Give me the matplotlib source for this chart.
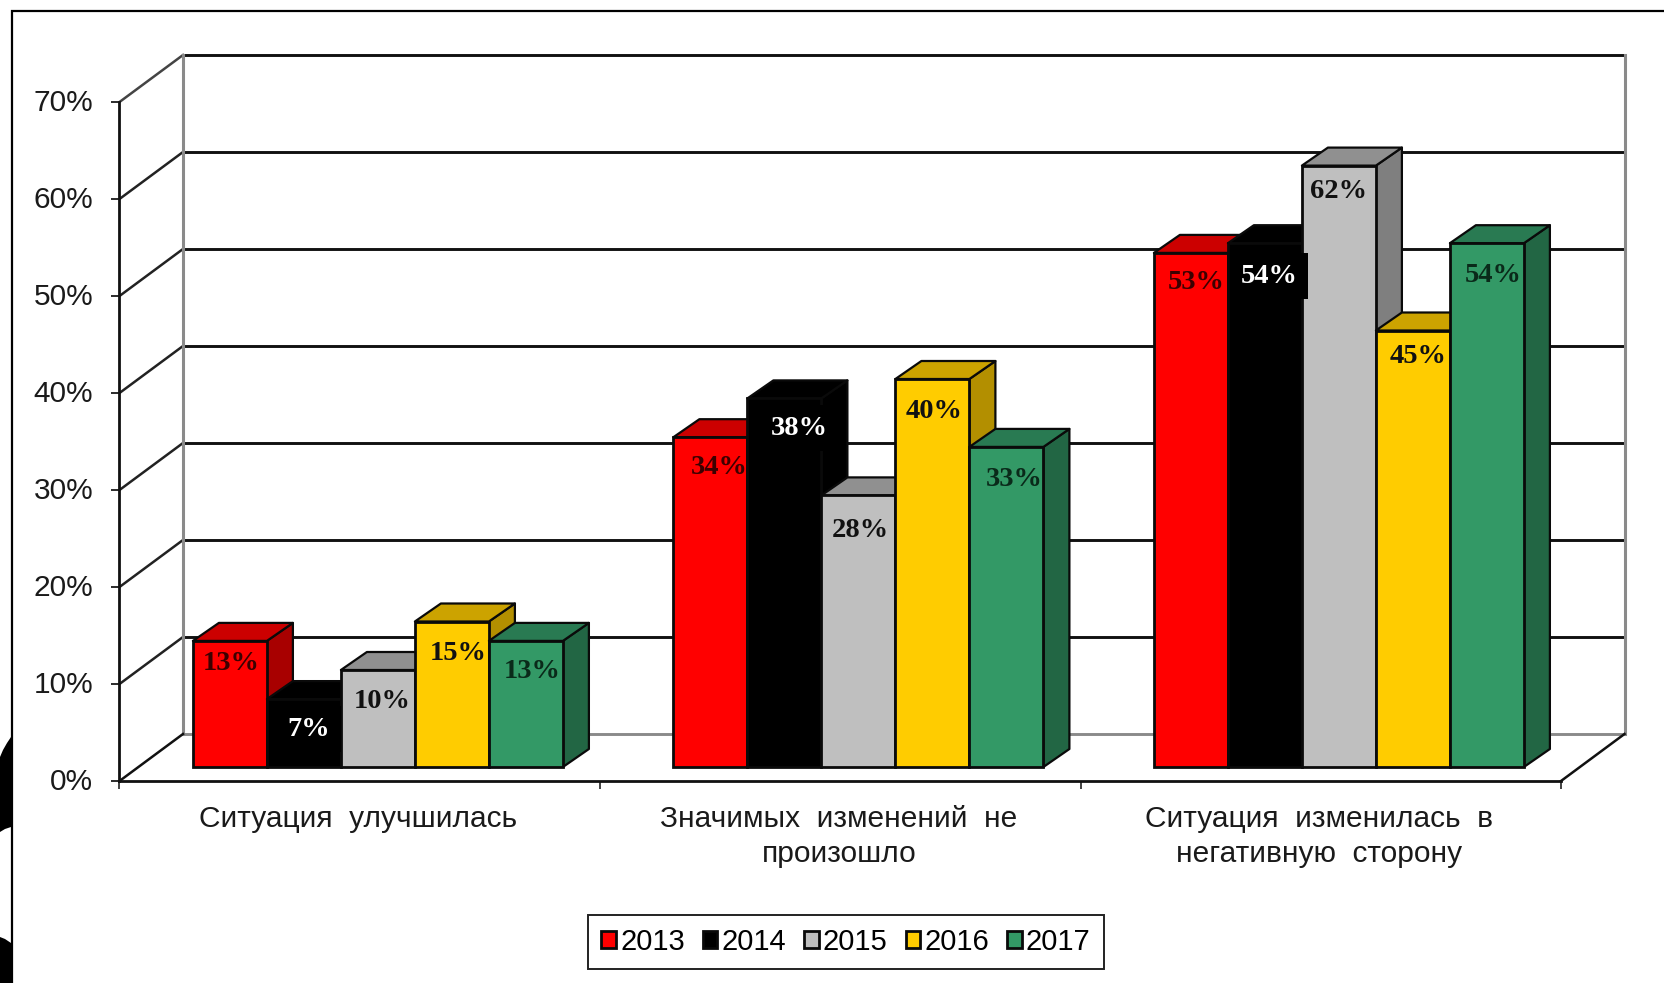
import matplotlib
matplotlib.use("Agg")
import matplotlib.pyplot as plt
from matplotlib.patches import Polygon, Patch
from matplotlib.transforms import ScaledTranslation

categories = ["Ситуация  улучшилась",
              "Значимых  изменений  не\nпроизошло",
              "Ситуация  изменилась  в\nнегативную  сторону"]
years = ["2013", "2014", "2015", "2016", "2017"]
v2013 = [13, 34, 53]
v2014 = [7, 38, 54]
v2015 = [10, 28, 62]
v2016 = [15, 40, 45]
v2017 = [13, 33, 54]
series = [v2013, v2014, v2015, v2016, v2017]
yticks = [0, 10, 20, 30, 40, 50, 60, 70]

front = ["#ff0000", "#000000", "#bfbfbf", "#ffcc00", "#339966"]
top_c = ["#cc0000", "#000000", "#909090", "#cca300", "#297a52"]
side_c = ["#a80000", "#000000", "#7f7f7f", "#b38f00", "#226644"]
label_c = ["#3c0000", "#ffffff", "#111111", "#111111", "#0a2a1a"]

# per-label pixel nudges relative to bar centre / bar top
nudges = [
    [(1, -23), (5, -30), (4, -31), (6, -32), (6, -31)],
    [(9, -30), (15, -30), (2, -35), (2, -32), (8, -33)],
    [(5, -30), (4, -33), (0, -26), (5, -26), (6, -32)],
]

W, H = 1664, 983
fig = plt.figure(figsize=(W / 100, H / 100), dpi=100, facecolor="white")
plt.rcParams["font.family"] = ["Liberation Sans", "DejaVu Sans"]

# slide decoration in pixel space
deco = fig.add_axes([0, 0, 1, 1])
deco.set_xlim(0, W)
deco.set_ylim(H, 0)
deco.axis("off")
deco.plot([W, 11.7, 11.7], [10.7, 10.7, H], color="black", lw=1.6, solid_joinstyle="miter")
deco.add_patch(Polygon([(0, 757), (3, 750), (7, 743), (11, 737), (11, 827), (5, 829), (0, 832)], fc="black", ec="none"))
deco.add_patch(Polygon([(0, 937), (5, 939), (11, 943), (11, H), (0, H)], fc="black", ec="none"))

X0, X1, Y0, Y1 = 119.5, 1561.0, 781.0, 102.0
ax = fig.add_axes([X0 / W, 1 - Y0 / H, (X1 - X0) / W, (Y0 - Y1) / H])
ax.set_xlim(0, 3)
ax.set_ylim(0, 70)
ax.patch.set_alpha(0)
px = 3 / (X1 - X0)
py = 70 / (Y0 - Y1)

dx, dy = 63.5 * px, 47 * py          # depth of chart box
lift_y = 14 * py                     # bars stand inside the floor
bar_dx, bar_dy = 26 * px, 18 * py    # depth of one bar
bar_w = 74.0 * px
first = 73.4 * px                    # first bar left edge within a category

BLACK = "#111111"
GREY = "#8a8a8a"
for y in yticks:
    grid_c = GREY if y == 0 else BLACK
    ax.plot([dx, 3 + dx], [y + dy, y + dy], color=grid_c, lw=2.1, clip_on=False, zorder=1)
    if y > 0:
        ax.plot([0, dx], [y, y + dy], color="#222222" if y < 70 else "#444444", lw=1.8, clip_on=False, zorder=2)
ax.plot([dx, dx], [dy, 70 + dy], color=GREY, lw=2.2, clip_on=False, zorder=2)
ax.plot([3 + dx, 3 + dx], [dy, 70 + dy], color=GREY, lw=2.2, clip_on=False, zorder=2)
ax.plot([0, dx], [0, dy], color=BLACK, lw=1.8, clip_on=False, zorder=2)
ax.plot([3, 3 + dx], [0, dy], color=BLACK, lw=1.8, clip_on=False, zorder=2)

z = 5
for c in range(len(categories)):
    for s, vals in enumerate(series):
        v = vals[c]
        x0 = c + first + s * bar_w
        x1 = x0 + bar_w
        yb = lift_y
        yt = lift_y + v
        ec = "#0a0a0a"
        ax.add_patch(Polygon([(x1, yb), (x1 + bar_dx, yb + bar_dy), (x1 + bar_dx, yt + bar_dy), (x1, yt)],
                             fc=side_c[s], ec=ec, lw=1.6, clip_on=False, zorder=z, joinstyle="round"))
        ax.add_patch(Polygon([(x0, yt), (x0 + bar_dx, yt + bar_dy), (x1 + bar_dx, yt + bar_dy), (x1, yt)],
                             fc=top_c[s], ec=ec, lw=1.6, clip_on=False, zorder=z, joinstyle="round"))
        ax.bar(x0, v, width=bar_w, bottom=yb, align="edge", color=front[s], edgecolor=ec, lw=2.0,
               clip_on=False, zorder=z + 0.1)
        z += 1

for c in range(len(categories)):
    for s, vals in enumerate(series):
        v = vals[c]
        xc = c + first + (s + 0.5) * bar_w
        nx, ny = nudges[c][s]
        box = dict(fc="black", ec="none", pad=7.5) if s == 1 else None
        ax.annotate(f"{v}%", (xc, lift_y + v), xytext=(nx * 0.72, ny * 0.72), textcoords="offset points",
                    ha="center", va="center", color=label_c[s], fontsize=20.5,
                    family=["Liberation Serif"], fontweight="bold", zorder=200 + s, bbox=box,
                    annotation_clip=False)

for name in ("top", "right"):
    ax.spines[name].set_visible(False)
for name in ("left", "bottom"):
    ax.spines[name].set_color(BLACK)
    ax.spines[name].set_linewidth(2.0)
    ax.spines[name].set_zorder(3)

ax.set_yticks(yticks)
ax.set_yticklabels([f"{y}%" for y in yticks])
ax.tick_params(axis="y", length=6, width=1.3, pad=13, labelsize=21.5, colors="#1a1a1a")
up = ScaledTranslation(0, 1.5 / 72, fig.dpi_scale_trans)
for lab in ax.get_yticklabels():
    lab.set_transform(lab.get_transform() + up)
ax.set_xticks([0, 1, 2, 3])
ax.set_xticklabels([])
ax.tick_params(axis="x", which="major", length=6, width=1.3, color="#333333")
ax.set_xticks([0.5, 1.5, 2.5], minor=True)
ax.set_xticklabels(categories, minor=True, fontsize=21.5, color="#1a1a1a", linespacing=1.3)
ax.tick_params(axis="x", which="minor", length=0, pad=17.5)
left = ScaledTranslation(-1 / 72, 0, fig.dpi_scale_trans)
for lab in ax.get_xticklabels(minor=True):
    lab.set_transform(lab.get_transform() + left)

handles = [Patch(fc=front[i], ec="#0a0a0a", lw=2, label=years[i]) for i in range(5)]
leg = fig.legend(handles=handles, loc="center", bbox_to_anchor=(846 / W, 1 - 942 / H), ncol=5,
                 fontsize=21, frameon=True, fancybox=False, edgecolor="#222222", framealpha=1,
                 handlelength=0.5, handleheight=0.5, handletextpad=0.14, columnspacing=0.62,
                 borderpad=0.45, borderaxespad=0)
leg.get_frame().set_linewidth(1.4)

fig.savefig("out.png", dpi=100)
